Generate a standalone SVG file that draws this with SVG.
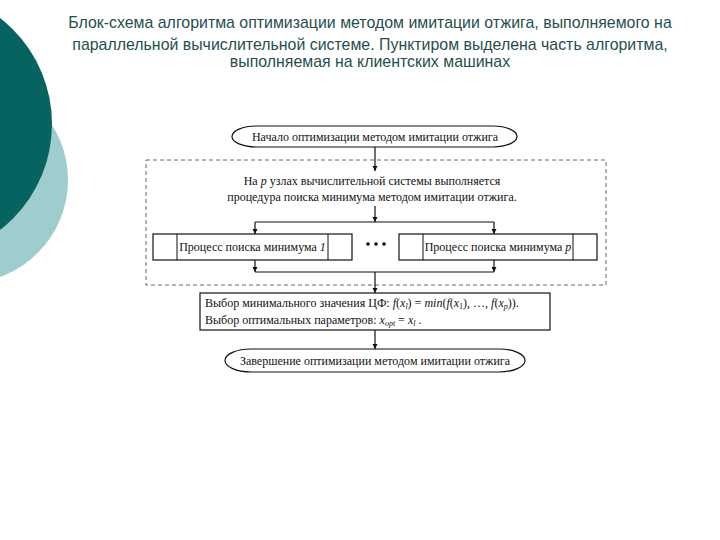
<svg xmlns="http://www.w3.org/2000/svg" width="720" height="540" viewBox="0 0 720 540">
<style>
.title{font-family:"Liberation Sans",Arial,sans-serif;font-size:15.9px;fill:#1f4f4d;text-anchor:middle}
.t{font-family:"Liberation Serif","Times New Roman",serif;font-size:12px;fill:#111}
.c{text-anchor:middle}
.shape{fill:#fff;stroke:#111;stroke-width:1.2}
.inner{stroke:#111;stroke-width:1}
.line{fill:none;stroke:#111;stroke-width:1.2}
.dash{fill:none;stroke:#666;stroke-width:1;stroke-dasharray:4 3}
</style>
<defs>
<marker id="ah" viewBox="0 0 8 8" refX="8" refY="4" markerWidth="5" markerHeight="6" markerUnits="userSpaceOnUse" orient="auto">
<path d="M0,0 L8,4 L0,8 Z" fill="#111"/>
</marker>
</defs>
<rect width="720" height="540" fill="#fff"/>
<g id="decor">
<circle cx="-35" cy="180" r="103" fill="#9fcdcd"/>
<circle cx="-82" cy="124" r="134" fill="#066360"/>
</g>
<g id="title">
<text class="title" x="370" y="28">Блок-схема алгоритма оптимизации методом имитации отжига, выполняемого на</text>
<text class="title" x="370" y="50">параллельной вычислительной системе. Пунктиром выделена часть алгоритма,</text>
<text class="title" x="370" y="67">выполняемая на клиентских машинах</text>
</g>
<g id="parallel-region">
<rect class="dash" x="146" y="160" width="460" height="125"/>
</g>
<g id="connectors">
<line class="line" x1="375" y1="147" x2="375" y2="171" marker-end="url(#ah)"/>
<line class="line" x1="375" y1="206" x2="375" y2="222" marker-end="url(#ah)"/>
<polyline class="line" points="255,222 494,222"/>
<line class="line" x1="255" y1="222" x2="255" y2="234" marker-end="url(#ah)"/>
<line class="line" x1="494" y1="222" x2="494" y2="234" marker-end="url(#ah)"/>
<line class="line" x1="255" y1="260" x2="255" y2="272" marker-end="url(#ah)"/>
<line class="line" x1="494" y1="260" x2="494" y2="272" marker-end="url(#ah)"/>
<polyline class="line" points="255,272 494,272"/>
<line class="line" x1="375" y1="272" x2="375" y2="293" marker-end="url(#ah)"/>
<line class="line" x1="375" y1="330" x2="375" y2="349" marker-end="url(#ah)"/>
</g>
<g id="start">
<rect class="shape" x="232" y="126" width="285" height="21" rx="24" ry="10.5"/>
<text class="t c" x="375" y="140.5">Начало оптимизации методом имитации отжига</text>
</g>
<g id="distribute">
<text class="t c" x="372" y="185">На <tspan font-style="italic">p</tspan> узлах вычислительной системы выполняется</text>
<text class="t c" x="372" y="201">процедура поиска минимума методом имитации отжига.</text>
</g>
<g id="process-1">
<rect class="shape" x="153" y="234" width="199" height="26"/>
<line class="inner" x1="177" y1="234" x2="177" y2="260"/>
<line class="inner" x1="328" y1="234" x2="328" y2="260"/>
<text class="t c" x="252.5" y="251">Процесс поиска минимума <tspan font-style="italic">1</tspan></text>
</g>
<g id="ellipsis">
<circle cx="368" cy="244" r="1.8" fill="#111"/>
<circle cx="376" cy="244" r="1.8" fill="#111"/>
<circle cx="384" cy="244" r="1.8" fill="#111"/>
</g>
<g id="process-p">
<rect class="shape" x="399" y="234" width="198" height="26"/>
<line class="inner" x1="423" y1="234" x2="423" y2="260" stroke="#888"/>
<line class="inner" x1="573" y1="234" x2="573" y2="260" stroke="#888"/>
<text class="t c" x="498" y="251">Процесс поиска минимума <tspan font-style="italic">p</tspan></text>
</g>
<g id="select">
<rect class="shape" x="200" y="293" width="350" height="37"/>
<text class="t" x="205" y="307">Выбор минимального значения ЦФ: <tspan font-style="italic">f</tspan>(<tspan font-style="italic">x</tspan><tspan font-style="italic" font-size="8" dy="2">l</tspan><tspan dy="-2">) = </tspan><tspan font-style="italic">min</tspan>(<tspan font-style="italic">f</tspan>(<tspan font-style="italic">x</tspan><tspan font-size="8" dy="2">1</tspan><tspan dy="-2">), …, </tspan><tspan font-style="italic">f</tspan>(<tspan font-style="italic">x</tspan><tspan font-style="italic" font-size="8" dy="2">p</tspan><tspan dy="-2">)).</tspan></text>
<text class="t" x="205" y="324">Выбор оптимальных параметров: <tspan font-style="italic">x</tspan><tspan font-style="italic" font-size="8" dy="2">opt</tspan><tspan dy="-2"> = </tspan><tspan font-style="italic">x</tspan><tspan font-style="italic" font-size="8" dy="2">l</tspan><tspan dy="-2"> .</tspan></text>
</g>
<g id="end">
<rect class="shape" x="225" y="349" width="300" height="23" rx="26" ry="11.5"/>
<text class="t c" x="375" y="364.5">Завершение оптимизации методом имитации отжига</text>
</g>
</svg>
